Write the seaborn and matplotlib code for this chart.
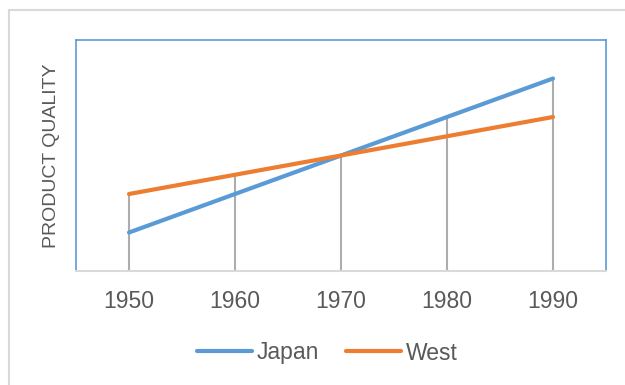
import matplotlib
matplotlib.use("Agg")
import matplotlib.pyplot as plt
import seaborn as sns
import pandas as pd
from matplotlib.patches import Rectangle
from matplotlib.lines import Line2D

years = ["1950", "1960", "1970", "1980", "1990"]
japan = [1, 2, 3, 4, 5]
west = [2, 2.5, 3, 3.5, 4]

sns.set_theme(style="white")
plt.rcParams['font.family'] = ['Liberation Sans', 'DejaVu Sans']

df = pd.DataFrame({
    "year": years * 2,
    "value": japan + west,
    "series": ["Japan"] * len(years) + ["West"] * len(years),
})
df["pos"] = list(range(len(years))) * 2

fig = plt.figure(figsize=(6.25, 3.85), dpi=100)
fig.patches.append(Rectangle((9 / 625, -0.1), 1.2, 1 - 10 / 385 + 0.1, transform=fig.transFigure,
                             fill=False, edgecolor="#D9D9D9", linewidth=1.5, zorder=0))
ax = fig.add_axes([76 / 625, (385 - 271) / 385, 530 / 625, 231 / 385])

# drop lines
tops = [max(a, b) for a, b in zip(japan, west)]
ax.vlines(range(len(years)), 0, tops, color="#ADADAD", linewidth=1.5, zorder=1)

palette = {"Japan": "#5B9BD5", "West": "#ED7D31"}
sns.lineplot(data=df, x="pos", y="value", hue="series", palette=palette, ax=ax,
             linewidth=3, legend=False, zorder=3, solid_capstyle="round")

ax.set_xlim(-0.5, len(years) - 0.5)
ax.set_ylim(0, 6)
ax.set_xticks(range(len(years)))
ax.set_xticklabels(years)
ax.set_yticks([])
ax.tick_params(axis="x", length=0, pad=14, labelsize=16.5, labelcolor="#595959")
ax.set_xlabel("")
ax.set_ylabel("PRODUCT QUALITY", fontsize=14, color="#595959")
ax.yaxis.set_label_coords(-0.03, 0.5)

for s in ["left", "top", "right"]:
    ax.spines[s].set_color("#5B9BD5")
    ax.spines[s].set_linewidth(1.2)
ax.spines["bottom"].set_color("#D9D9D9")
ax.spines["bottom"].set_linewidth(1.5)

handles = [Line2D([], [], color=palette[k], linewidth=3, solid_capstyle="round") for k in ["Japan", "West"]]
leg = fig.legend(handles, ["Japan", "West"], loc="center", bbox_to_anchor=(327 / 625, 1 - 353 / 385),
                 ncol=2, frameon=False, fontsize=16.5, handlelength=2.4, handletextpad=0.2,
                 columnspacing=1.2)
for t in leg.get_texts():
    t.set_color("#595959")

fig.savefig("out.png", dpi=100)
